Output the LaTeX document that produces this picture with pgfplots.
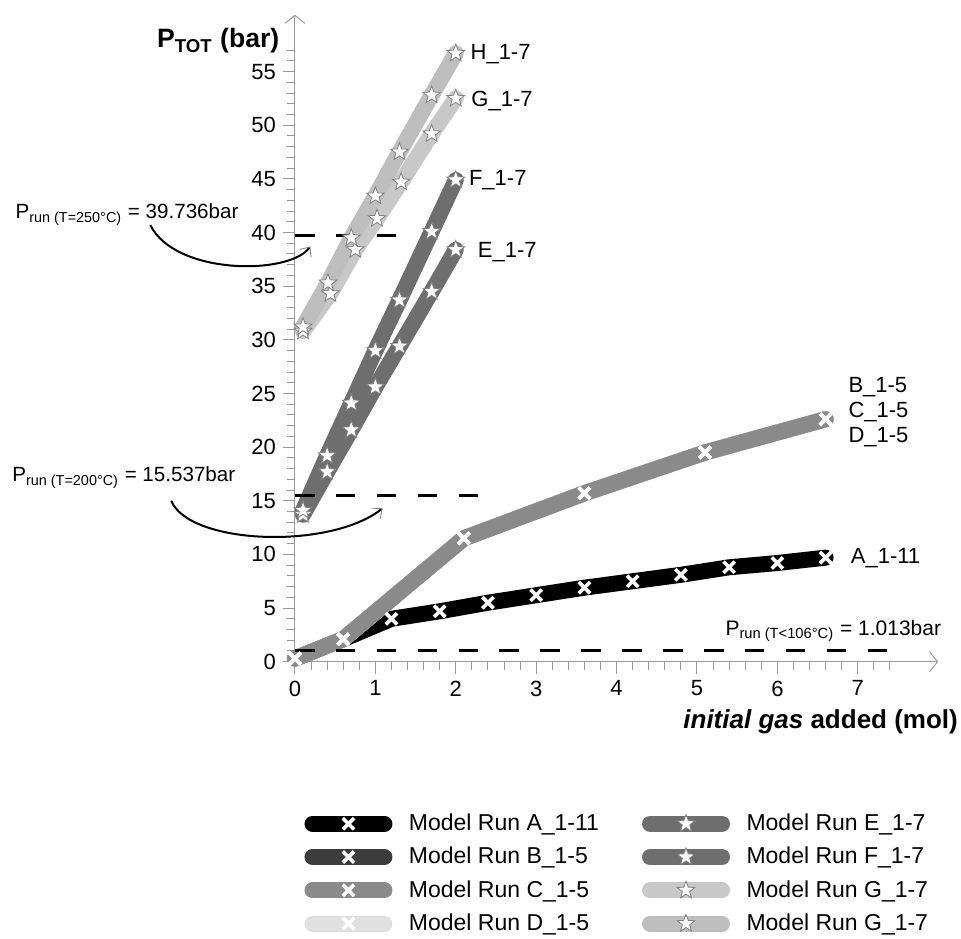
\documentclass[border=0pt]{standalone}
\usepackage{fontspec}
\setmainfont{Liberation Sans}
\usepackage{pgfplots}
\pgfplotsset{compat=1.18}
\usetikzlibrary{arrows.meta}

\definecolor{cA}{HTML}{000000}
\definecolor{cB}{HTML}{3C3C3C}
\definecolor{cC}{HTML}{8A8A8A}
\definecolor{cD}{HTML}{E0E0E0}
\definecolor{cEF}{HTML}{6E6E6E}
\definecolor{cG}{HTML}{C8C8C8}
\definecolor{cH}{HTML}{BEBEBE}
\definecolor{axgray}{HTML}{9A9A9A}

% filled five-pointed star
\pgfdeclareplotmark{fstar}{%
  \pgfpathmoveto{\pgfpointpolar{90}{\pgfplotmarksize}}%
  \pgfpathlineto{\pgfpointpolar{126}{0.42\pgfplotmarksize}}%
  \pgfpathlineto{\pgfpointpolar{162}{\pgfplotmarksize}}%
  \pgfpathlineto{\pgfpointpolar{198}{0.42\pgfplotmarksize}}%
  \pgfpathlineto{\pgfpointpolar{234}{\pgfplotmarksize}}%
  \pgfpathlineto{\pgfpointpolar{270}{0.42\pgfplotmarksize}}%
  \pgfpathlineto{\pgfpointpolar{306}{\pgfplotmarksize}}%
  \pgfpathlineto{\pgfpointpolar{342}{0.42\pgfplotmarksize}}%
  \pgfpathlineto{\pgfpointpolar{18}{\pgfplotmarksize}}%
  \pgfpathlineto{\pgfpointpolar{54}{0.42\pgfplotmarksize}}%
  \pgfpathclose
  \pgfusepathqfillstroke
}

\pgfplotsset{
  runline/.style={line width=8pt, line cap=round, line join=round},
  xrun/.style={runline, color=#1, mark=x, mark size=4pt,
    mark options={draw=white, line width=1.8pt, line cap=butt}},
  srun/.style={runline, color=#1, mark=fstar, mark size=4.6pt,
    mark options={fill=white, draw=gray, line width=0.4pt, line join=miter}},
}

\begin{document}
\begin{tikzpicture}
\begin{axis}[
  x=40.2pt, y=5.365pt,
  xmin=0, xmax=8, ymin=0, ymax=60.3,
  enlargelimits=false,
  clip=false,
  axis lines=left,
  axis line style={axgray, line width=0.5pt, -{Straight Barb[length=4pt,width=10pt]}},
  tick style={axgray, line width=0.5pt},
  tick align=outside,
  major tick length=6pt,
  minor tick length=4pt,
  xtick={0,1,...,7},
  minor xtick={0.2,0.4,0.6,0.8,1.2,1.4,1.6,1.8,2.2,2.4,2.6,2.8,3.2,3.4,3.6,3.8,4.2,4.4,4.6,4.8,5.2,5.4,5.6,5.8,6.2,6.4,6.6,6.8,7.2,7.4},
  ytick={0,5,...,55},
  minor ytick={1,...,57},
  ticklabel style={font=\fontsize{11}{13}\selectfont},
  /pgf/number format/assume math mode=true,
  legend columns=2,
  legend cell align=left,
  legend style={at={(0.0048,-0.2223)}, anchor=north west, draw=none, fill=none,
    font=\fontsize{11.5}{13}\selectfont,
    /tikz/every even column/.append style={column sep=19.5pt},
    /tikz/row sep=2.8pt},
  legend image code/.code={
    \draw[mark repeat=2, mark phase=2, #1] plot coordinates {(0pt,0pt) (18pt,0pt) (36pt,0pt)};
    \path (42.25pt,0pt);},
]
% A_1-11
\addplot[xrun=cA, forget plot] coordinates {(0,0.3) (0.6,2.1) (1.2,4.0) (1.8,4.7) (2.4,5.5) (3.0,6.2) (3.6,6.9) (4.2,7.5) (4.8,8.1) (5.4,8.8) (6.0,9.2) (6.6,9.7)};
% B, D, C _1-5 (overlapping)
\addplot[xrun=cB, forget plot] coordinates {(0,0.3) (0.6,2.1) (2.1,11.5) (3.6,15.7) (5.1,19.5) (6.6,22.6)};
\addplot[xrun=cD, forget plot] coordinates {(0,0.3) (0.6,2.1) (2.1,11.5) (3.6,15.7) (5.1,19.5) (6.6,22.6)};
\addplot[xrun=cC, forget plot] coordinates {(0,0.3) (0.6,2.1) (2.1,11.5) (3.6,15.7) (5.1,19.5) (6.6,22.6)};
% E_1-7, F_1-7
\addplot[srun=cEF, forget plot] coordinates {(0.1,13.7) (0.4,17.7) (0.7,21.6) (1.0,25.6) (1.3,29.4) (1.7,34.5) (2.0,38.4)};
\addplot[srun=cEF, forget plot] coordinates {(0.1,14.1) (0.4,19.2) (0.7,24.1) (1.0,29.0) (1.3,33.7) (1.7,40.1) (2.0,44.9)};
% G_1-7, H_1-7
\addplot[srun=cG, forget plot] coordinates {(0.1,30.8) (0.44,34.3) (0.75,38.4) (1.02,41.3) (1.32,44.7) (1.7,49.2) (2.0,52.5)};
\addplot[srun=cH, forget plot] coordinates {(0.1,31.2) (0.41,35.3) (0.7,39.5) (1.0,43.4) (1.3,47.5) (1.7,52.8) (2.0,56.7)};
% reference pressures
\addplot[black, line width=1.5pt, dash pattern=on 9.8pt off 10.65pt, forget plot] coordinates {(0,39.736) (1.27,39.736)};
\addplot[black, line width=1.5pt, dash pattern=on 9.8pt off 10.65pt, forget plot] coordinates {(0,15.537) (2.36,15.537)};
\addplot[black, line width=1.5pt, dash pattern=on 9.8pt off 10.65pt, forget plot] coordinates {(0,1.013) (7.37,1.013)};

% legend (row-wise order for two columns)
\addlegendimage{xrun=cA}\addlegendentry{Model Run A\_1-11}
\addlegendimage{srun=cEF}\addlegendentry{Model Run E\_1-7}
\addlegendimage{xrun=cB}\addlegendentry{Model Run B\_1-5}
\addlegendimage{srun=cEF}\addlegendentry{Model Run F\_1-7}
\addlegendimage{xrun=cC}\addlegendentry{Model Run C\_1-5}
\addlegendimage{srun=cG}\addlegendentry{Model Run G\_1-7}
\addlegendimage{xrun=cD}\addlegendentry{Model Run D\_1-5}
\addlegendimage{srun=cH}\addlegendentry{Model Run G\_1-7}

% series labels
\node[anchor=base west, inner sep=0pt, font=\fontsize{11}{13}\selectfont] at (axis cs:2.18,56.1) {H\_1-7};
\node[anchor=base west, inner sep=0pt, font=\fontsize{11}{13}\selectfont] at (axis cs:2.19,51.7) {G\_1-7};
\node[anchor=base west, inner sep=0pt, font=\fontsize{11}{13}\selectfont] at (axis cs:2.16,44.4) {F\_1-7};
\node[anchor=base west, inner sep=0pt, font=\fontsize{11}{13}\selectfont] at (axis cs:2.27,37.7) {E\_1-7};
\node[anchor=base west, inner sep=0pt, font=\fontsize{11}{13}\selectfont] at (axis cs:6.88,25.1) {B\_1-5};
\node[anchor=base west, inner sep=0pt, font=\fontsize{11}{13}\selectfont] at (axis cs:6.88,22.8) {C\_1-5};
\node[anchor=base west, inner sep=0pt, font=\fontsize{11}{13}\selectfont] at (axis cs:6.88,20.4) {D\_1-5};
\node[anchor=base west, inner sep=0pt, font=\fontsize{11}{13}\selectfont] at (axis cs:6.91,9.2) {A\_1-11};

% reference pressure annotations
\node[anchor=base west, inner sep=0pt, font=\fontsize{10.3}{12}\selectfont] at (axis cs:-3.48,41.3) {P\textsubscript{run (T=250°C)} = 39.736bar};
\node[anchor=base west, inner sep=0pt, font=\fontsize{10.3}{12}\selectfont] at (axis cs:-3.52,16.8) {P\textsubscript{run (T=200°C)} = 15.537bar};
\node[anchor=base west, inner sep=0pt, font=\fontsize{10.5}{12}\selectfont] at (axis cs:5.35,2.49) {P\textsubscript{run (T<106°C)} = 1.013bar};
\draw[black, line width=1pt, -{Straight Barb[color=gray, line width=0.4pt, length=4pt, width=7pt]}]
  (axis cs:-1.80,40.7) .. controls (axis cs:-1.49,36.0) and (axis cs:-0.06,36.0) .. (axis cs:0.19,38.7);
\draw[black, line width=1pt, -{Straight Barb[color=gray, line width=0.4pt, length=4pt, width=7pt]}]
  (axis cs:-1.54,15.0) .. controls (axis cs:-1.31,10.9) and (axis cs:0.435,10.4) .. (axis cs:1.09,14.3);

% axis titles
\node[anchor=base east, inner sep=0pt, font=\bfseries\fontsize{13.3}{16}\selectfont] at (axis cs:-0.19,57.2) {P\textsubscript{TOT} (bar)};
\node[anchor=base east, inner sep=0pt, font=\bfseries\fontsize{13}{15}\selectfont] at (axis cs:8.25,-6.2) {\textit{initial gas} added (mol)};

\coordinate (bbl) at (axis cs:-3.669,-25.84);
\coordinate (btr) at (axis cs:8.284,61.67);
\end{axis}
\pgfresetboundingbox
\path[use as bounding box] (bbl) rectangle (btr);
\end{tikzpicture}
\end{document}
